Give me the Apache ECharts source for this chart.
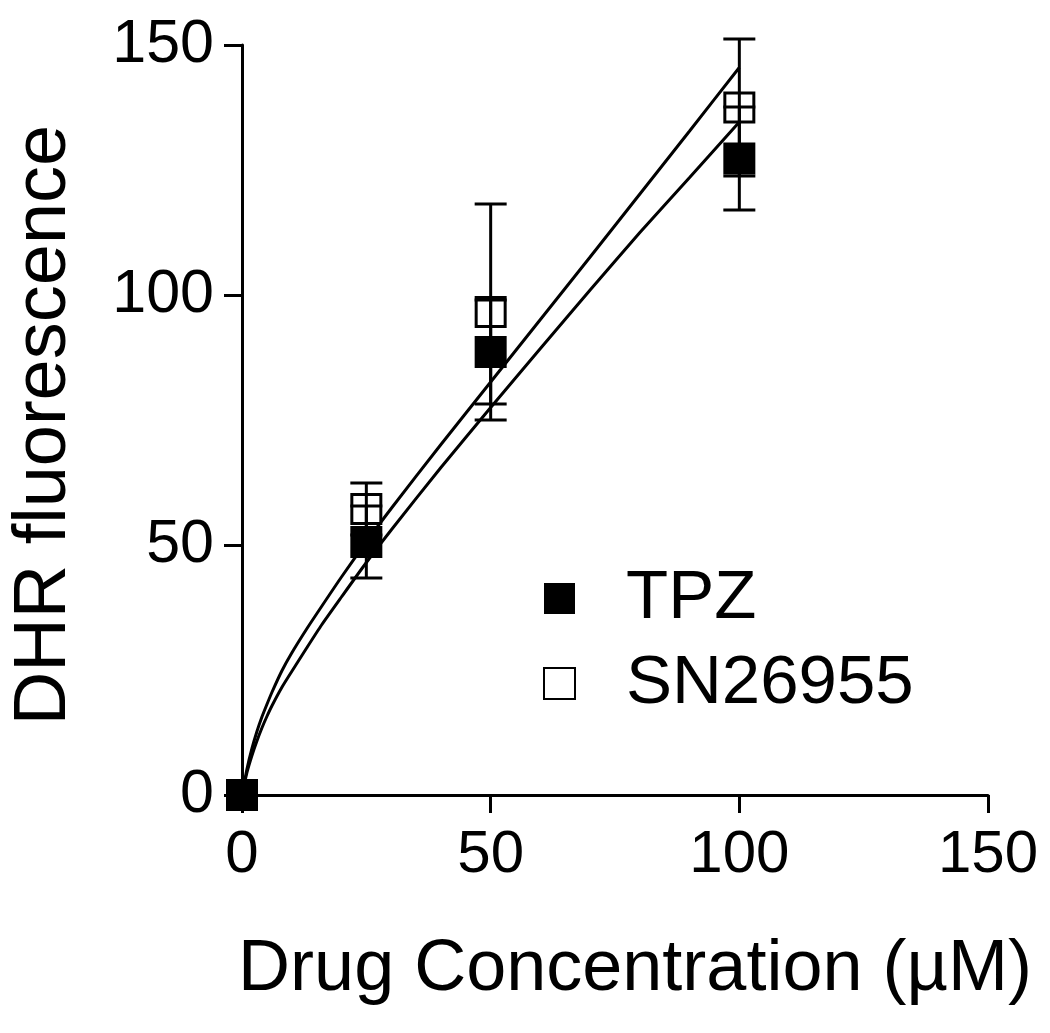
<!DOCTYPE html>
<html><head><meta charset="utf-8">
<script src="https://cdn.jsdelivr.net/npm/echarts@6/dist/echarts.min.js"></script>
<style>html,body{margin:0;padding:0;background:#fff}#c{width:1050px;height:1033px}</style>
</head><body><div id="c"></div>
<script>
const concentrations = [0, 25, 50, 100];
const tpzMean = [0, 50.6, 88.6, 127.3];
const tpzErr  = [0, 7.2, 10.4, 10.3];
const snMean  = [0, 57.2, 96.6, 137.5];
const snErr   = [0, 5.2, 21.6, 13.7];
const fitX    = [0, 1, 2, 3, 4, 5, 6, 8, 10, 13, 16, 20, 25, 30, 40, 50, 60, 70, 80, 90, 100];
const fitSN   = [0, 5.2, 9.3, 12.7, 15.6, 18.1, 20.5, 24.8, 28.4, 33.2, 37.7, 43.6, 50.6, 57.3, 70.1, 82.6, 95.1, 107.6, 120.2, 132.8, 145.5];
const fitTPZ  = [0, 4.5, 7.9, 10.8, 13.4, 15.7, 17.8, 21.5, 24.7, 29.4, 34, 39.6, 46.5, 53, 65.5, 77.5, 89.3, 101, 112.5, 123.5, 134.6];
const xTicks = [0, 50, 100, 150];
const yTicks = [0, 50, 100, 150];
const xTitle = 'Drug Concentration (µM)';
const yTitle = 'DHR fluorescence';

const FONT = 'Liberation Sans';
const pairs = (xs, ys) => xs.map((x, i) => [x, ys[i]]);
const errData = (m, e) => concentrations.map((c, i) => [c, m[i] - e[i], m[i] + e[i]]).filter(d => d[2] > d[1]);

function renderErr(params, api) {
  const x = api.value(0);
  const pLo = api.coord([x, api.value(1)]);
  const pHi = api.coord([x, api.value(2)]);
  const hw = 16;
  const style = { stroke: '#000', lineWidth: 3, fill: null };
  return { type: 'group', children: [
    { type: 'line', shape: { x1: pLo[0], y1: pLo[1], x2: pHi[0], y2: pHi[1] }, style },
    { type: 'line', shape: { x1: pLo[0] - hw, y1: pLo[1], x2: pLo[0] + hw, y2: pLo[1] }, style },
    { type: 'line', shape: { x1: pHi[0] - hw, y1: pHi[1], x2: pHi[0] + hw, y2: pHi[1] }, style }
  ]};
}

const chart = echarts.init(document.getElementById('c'), null, { renderer: 'canvas' });
chart.setOption({
  animation: false,
  backgroundColor: '#fff',
  textStyle: { fontFamily: FONT, color: '#000' },
  grid: { left: 238, right: 62, top: 45, bottom: 238, containLabel: false },
  legend: {
    data: ['TPZ', 'SN26955'],
    orient: 'vertical',
    left: 543, top: 564, padding: 0,
    itemWidth: 31, itemHeight: 31, itemGap: 16,
    icon: 'rect',
    textStyle: { fontFamily: FONT, fontSize: 69, color: '#000', lineHeight: 68, padding: [0, 0, 0, 46] },
    selectedMode: false
  },
  xAxis: {
    type: 'value', min: 0, max: 150, interval: 50,
    name: xTitle, nameLocation: 'middle', nameGap: 139,
    nameTextStyle: { fontFamily: FONT, fontSize: 72, color: '#000', padding: [0, 0, 0, 40] },
    axisLine: { show: true, lineStyle: { color: '#000', width: 3 } },
    axisTick: { show: true, length: 18, inside: false, lineStyle: { color: '#000', width: 3 } },
    axisLabel: { fontFamily: FONT, fontSize: 60, color: '#000', margin: 30,
      formatter: v => xTicks.includes(v) ? String(v) : '' },
    splitLine: { show: false }
  },
  yAxis: {
    type: 'value', min: 0, max: 150, interval: 50,
    name: yTitle, nameLocation: 'middle', nameGap: 160, nameRotate: 90,
    nameTextStyle: { fontFamily: FONT, fontSize: 74, color: '#000', padding: [0, 10, 0, 0] },
    axisLine: { show: true, lineStyle: { color: '#000', width: 3 } },
    axisTick: { show: true, length: 18, inside: false, lineStyle: { color: '#000', width: 3 } },
    axisLabel: { fontFamily: FONT, fontSize: 61, color: '#000', margin: 28,
      formatter: v => yTicks.includes(v) ? String(v) : '' },
    splitLine: { show: false }
  },
  series: [
    { name: 'SN26955 fit', type: 'line', data: pairs(fitX, fitSN), showSymbol: false, smooth: 0.2,
      lineStyle: { color: '#000', width: 3 }, z: 1, silent: true },
    { name: 'TPZ fit', type: 'line', data: pairs(fitX, fitTPZ), showSymbol: false, smooth: 0.2,
      lineStyle: { color: '#000', width: 3 }, z: 1, silent: true },
    { name: 'SN26955', type: 'scatter', data: pairs(concentrations, snMean), symbol: 'rect', symbolSize: 29,
      itemStyle: { color: '#fff', borderColor: '#000', borderWidth: 3, opacity: 1 }, z: 2 },
    { name: 'TPZ', type: 'scatter', data: pairs(concentrations, tpzMean), symbol: 'rect', symbolSize: 32,
      itemStyle: { color: '#000', opacity: 1 }, z: 3 },
    { name: 'SN26955 err', type: 'custom', data: errData(snMean, snErr), renderItem: renderErr, clip: false, z: 4, silent: true },
    { name: 'TPZ err', type: 'custom', data: errData(tpzMean, tpzErr), renderItem: renderErr, clip: false, z: 4, silent: true }
  ]
});
</script>
</body></html>
